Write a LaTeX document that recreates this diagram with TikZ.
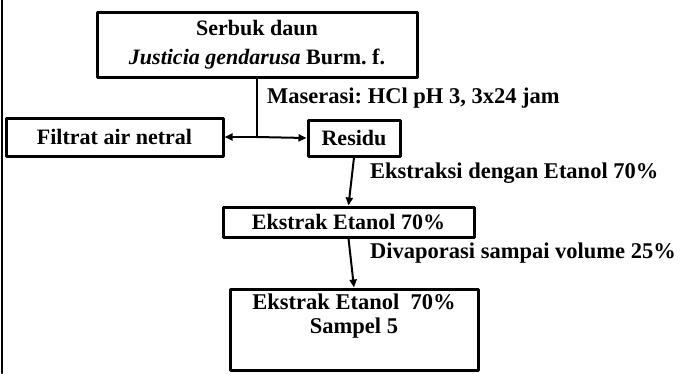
\documentclass[tikz,border=0pt]{standalone}
\usepackage{fontspec}
\setmainfont{Liberation Serif}
\usetikzlibrary{arrows.meta}
\frenchspacing
\begin{document}
\begin{tikzpicture}[x=1pt, y=-1pt, line cap=round, line join=round]
% flow chart of the extraction, coordinates in pixels of the scan
\def\boxlw{3pt}
\providecommand{\stepFont}{\fontsize{22}{29}\selectfont\bfseries}
\providecommand{\labelFont}{\fontsize{22.5}{27}\selectfont\bfseries}
\tikzset{
  stepbox/.style={draw=black, line width=\boxlw, fill=white, align=center,
    inner sep=0pt, font=\stepFont},
  steplabel/.style={anchor=west, inner sep=0pt, font=\labelFont},
  flow/.style={draw=black, line width=2pt, -{Triangle[length=8pt,width=7pt]}}
}
\useasboundingbox (0,0) rectangle (682,373);
% scan border on the left
\draw[line width=2.5pt] (2,0) -- (2,373);
% Boxes
\node[stepbox, minimum width=320, minimum height=65] (serbuk) at (257,44.5)
  {Serbuk daun\\\textit{Justicia gendarusa} Burm.\ f.};
\node[stepbox, minimum width=217, minimum height=38] (filtrat) at (114.5,137)
  {Filtrat air netral};
\node[stepbox, minimum width=92, minimum height=36] (residu) at (354,138)
  {Residu};
\node[stepbox, minimum width=251, minimum height=30] (ekstrak) at (348.5,222)
  {Ekstrak Etanol 70\%};
\node[stepbox, minimum width=248, minimum height=81, font=\fontsize{22.5}{24}\selectfont\bfseries] (sampel) at (354,329.5)
  {Ekstrak Etanol\ \ 70\%\\Sampel 5\\\strut};
% Split point below the powder
\coordinate (split) at (serbuk.south |- filtrat.east);
% Connectors
\draw[line width=2pt] (serbuk.south) -- (split);
\draw[flow] (split) -- (filtrat.east);
\draw[flow] (split) -- (residu.west);
\draw[flow] (residu.south) -- (ekstrak.north);
\draw[flow] (ekstrak.south) -- (sampel.north);
% Labels
\node[steplabel] (maserasi) at (267,98) {Maserasi: HCl pH 3, 3x24 jam};
\node[steplabel] (ekstraksi) at (370,173) {Ekstraksi dengan Etanol 70\%};
\node[steplabel] (divaporasi) at (370,253) {Divaporasi sampai volume 25\%};
\end{tikzpicture}
\end{document}
